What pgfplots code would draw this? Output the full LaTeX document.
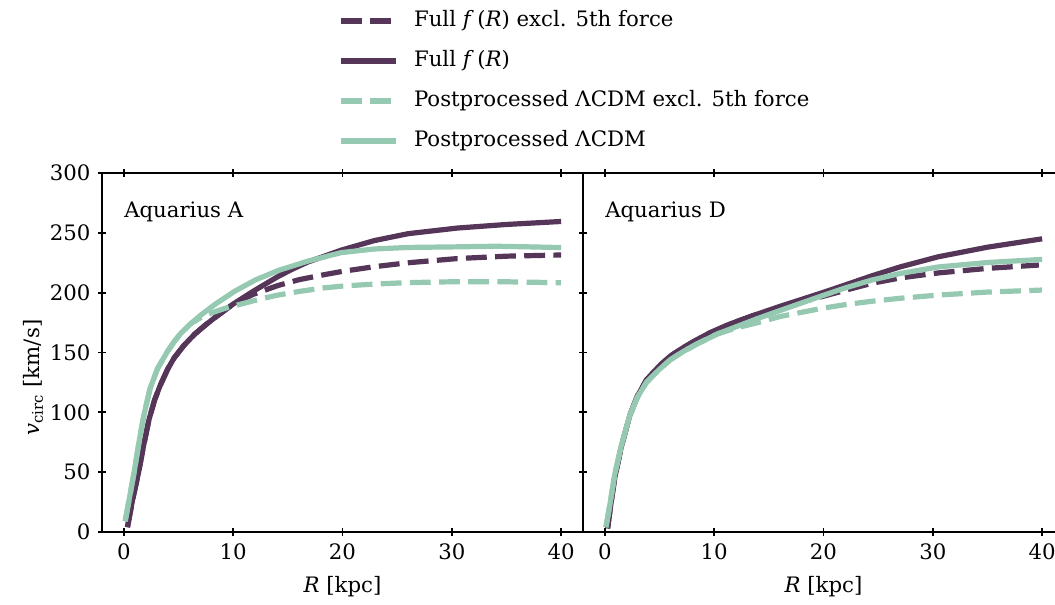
\documentclass[border=0pt]{standalone}
\usepackage{fontspec}
\setmainfont{DejaVu Serif}
\usepackage{pgfplots}
\pgfplotsset{compat=1.18}
\definecolor{cpurple}{RGB}{85,54,88}
\definecolor{cgreen}{RGB}{150,201,178}
\newcommand{\fs}{\fontsize{10.2}{12}\selectfont}

\pgfplotsset{
  panel/.style={
    width=230.88pt, height=172.32pt, scale only axis,
    xmin=-2, xmax=42, ymin=0, ymax=300,
    xtick={0,10,20,30,40}, ytick={0,50,...,300},
    tick align=center, major tick length=3.84pt,
    axis line style={line width=0.9pt},
    every tick/.style={line width=0.9pt, black},
    xticklabel pos=lower,
    /pgf/number format/assume math mode=true,
    tick label style={font=\fs},
    label style={font=\fs},
    xlabel={\textit{R} [kpc]},
    every axis x label/.style={at={(axis description cs:0.5,0)}, anchor=center, yshift=-26.4pt},
    clip=true,
  },
  pd/.style={cpurple, line width=2.5pt, dash pattern=on 10pt off 4pt, line join=round},
  ps/.style={cpurple, line width=2.5pt, line join=round},
  gd/.style={cgreen, line width=2.5pt, dash pattern=on 10pt off 4pt, line join=round},
  gs/.style={cgreen, line width=2.5pt, line join=round},
}

\begin{document}
\fs
\begin{tikzpicture}
\begin{axis}[panel, at={(0pt,0pt)}, anchor=south west,
  yticklabel pos=left,
  ylabel={\textit{v}\textsubscript{circ} [km/s]},
  every axis y label/.style={at={(axis description cs:-0.1435,0.43)}, rotate=90, anchor=center},
  legend style={at={(axis description cs:0.4906,1.4540)}, anchor=north west,
    draw=none, fill=none, inner sep=0pt, row sep=9pt,
    font=\fs,
    nodes={inner sep=0pt, text height=0.75em, text depth=0.25em, anchor=west},
    /tikz/every odd column/.append style={column sep=7.4pt}},
  legend cell align=left,
  legend image code/.code={\draw[#1] (0pt,0pt) -- (26.4pt,0pt);},
]
\addplot[pd] coordinates {(0.33,4) (0.8,27) (1.35,50) (1.8,72) (2.3,94) (2.8,110) (3.3,122) (4.0,136) (4.6,145.5) (5.5,156) (6.5,165.5) (7.4,172.5) (8.3,179) (10,190.5) (11.8,198.5) (14.1,206) (16,210.8) (18.3,215) (20,217.8) (22.9,221.7) (26,225) (30.5,228.5) (35,230.5) (40,231.5)};
\addlegendentry{Full \textit{f}\,(\textit{R}) excl. 5th force}
\addplot[ps] coordinates {(0.33,4) (0.8,27) (1.35,50) (1.8,72) (2.3,94) (2.8,110) (3.3,122) (4.0,136) (4.6,145.5) (5.5,156) (6.5,165.5) (7.4,172.5) (8.3,179) (10,190.5) (11.8,201) (14.1,213.5) (15.5,220) (16.8,225.5) (19.9,235.6) (22.9,243.5) (26,249.3) (30.5,254) (35,257) (40,259.5)};
\addlegendentry{Full \textit{f}\,(\textit{R})}
\addplot[gd] coordinates {(0.12,9) (0.5,28) (0.94,50) (1.4,76) (1.84,98) (2.4,120) (3.1,137) (4.0,151) (4.6,159) (5.2,166) (6.1,174) (7,179) (7.7,182) (8.3,184) (9.3,187) (10.1,189) (12.6,195) (14.1,198) (16,201) (18.3,204) (20,205.5) (22.9,207.2) (26,208.4) (30.5,209.2) (35,209.1) (40,208.3)};
\addlegendentry{Postprocessed ΛCDM excl. 5th force}
\addplot[gs] coordinates {(0.12,9) (0.5,28) (0.94,50) (1.4,76) (1.84,98) (2.4,120) (3.1,137) (4.0,151) (4.6,159) (5.2,166) (6.1,174) (7,181) (8.3,190) (10.1,201) (12,210.5) (14.1,218.5) (15.5,222.5) (16.8,226.3) (19.9,233.5) (22.9,236.5) (26,237.8) (30.5,238.3) (34,238.8) (37,238.3) (40,237.7)};
\addlegendentry{Postprocessed ΛCDM}
\node[anchor=base west, inner sep=0pt] at (axis cs:0,262.5) {Aquarius A};
\end{axis}

\begin{axis}[panel, at={(230.88pt,0pt)}, anchor=south west,
  yticklabels={},
]
\addplot[pd] coordinates {(0.25,3) (0.5,20) (0.9,45) (1.5,71) (2.3,98) (3.0,114) (3.8,127) (5,139) (6,147) (6.8,152) (8,158.5) (9.5,166) (11.5,174) (13.6,181) (16,187.5) (19.9,196.8) (22,202) (24.4,207.8) (27,212.3) (30.5,216.5) (35,220.3) (39.7,223.1)};
\addplot[ps] coordinates {(0.25,3) (0.5,20) (0.9,45) (1.5,71) (2.3,98) (3.0,114) (3.8,127) (5,139) (6,147) (6.8,152) (8,158.5) (9.5,166) (11.5,174) (13.6,181) (16,188.5) (19.9,200) (22,206.5) (24.4,214) (27,221.5) (30.5,230) (35,238) (40,245)};
\addplot[gd] coordinates {(0.1,4) (0.5,25) (0.9,48) (1.5,72) (2.3,98) (3.0,113) (3.8,125) (5,136) (6,144) (7.2,151) (8.5,157.5) (10.3,165.5) (12,170.5) (14,175) (16,180) (19.9,187) (22,190) (24.4,192.8) (27,195.3) (30.5,198) (35,200.5) (40,202.2)};
\addplot[gs] coordinates {(0.1,4) (0.5,25) (0.9,48) (1.5,72) (2.3,98) (3.0,113) (3.8,125) (5,136) (6,144) (7.2,151) (8.5,157.5) (10.3,165.5) (12,171.5) (14,178.5) (16,185) (19.9,197.5) (22,204) (24.4,210.5) (27,216) (30.5,221.5) (35,225.2) (40,227.8)};
\node[anchor=base west, inner sep=0pt] at (axis cs:0,262.5) {Aquarius D};
\end{axis}
\pgfresetboundingbox
\path[use as bounding box] (-48.96pt,-34.56pt) rectangle (457.44pt,255.36pt);
\end{tikzpicture}
\end{document}
